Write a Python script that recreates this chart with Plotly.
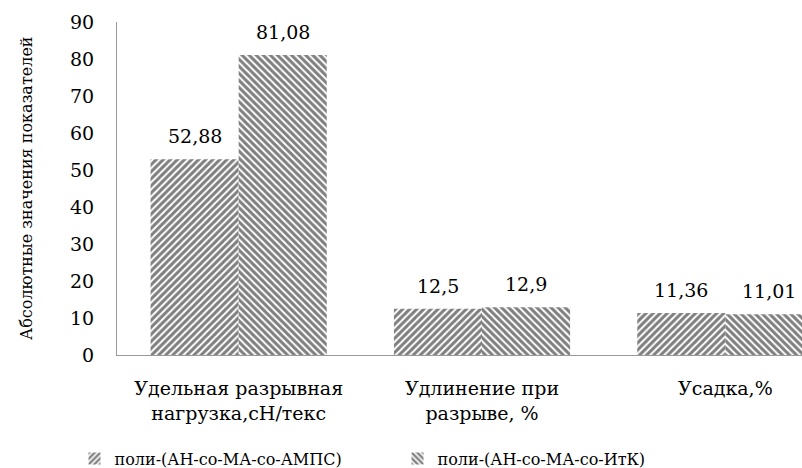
import plotly.graph_objects as go

categories = ["Удельная разрывная<br>нагрузка,сН/текс", "Удлинение при<br>разрыве, %", "Усадка,%"]
series_names = ["поли-(АН-со-МА-со-АМПС)", "поли-(АН-со-МА-со-ИтК)"]
values_ampс = [52.88, 12.5, 11.36]
values_itk = [81.08, 12.9, 11.01]
y_ticks = [0, 10, 20, 30, 40, 50, 60, 70, 80, 90]

FONT = "DejaVu Serif"
xpos = list(range(len(categories)))

def fmt(v):
    return str(v).replace(".", ",")

fig = go.Figure()
for name, vals, shape in [(series_names[0], values_ampс, "/"), (series_names[1], values_itk, "\\")]:
    fig.add_trace(go.Bar(
        x=xpos, y=vals, name=name,
        marker=dict(color="white", line=dict(width=0),
                    pattern=dict(shape=shape, fgcolor="black", bgcolor="white",
                                 size=5, solidity=0.6, fillmode="overlay")),
        hoverinfo="skip",
    ))

# data labels
for vals, shift in [(values_ampс, -44), (values_itk, 44)]:
    for xi, v in zip(xpos, vals):
        fig.add_annotation(x=xi, y=v, text=fmt(v), showarrow=False,
                           xshift=shift, yshift=10, yanchor="bottom",
                           font=dict(family=FONT, size=19, color="black"))

fig.add_annotation(xref="paper", yref="paper", x=-0.149, y=0.5,
                   text="Абсолютные значения показателей", textangle=-90,
                   showarrow=False, font=dict(family=FONT, size=16, color="black"))

fig.update_layout(
    width=802, height=468,
    margin=dict(l=117, r=0, t=22, b=113, autoexpand=False),
    plot_bgcolor="white", paper_bgcolor="white",
    barmode="group", bargap=0.276, bargroupgap=0,
    showlegend=True,
    legend=dict(orientation="h", x=-0.062, xanchor="left", y=-0.26, yanchor="top",
                font=dict(family=FONT, size=16, color="black"),
                entrywidth=278, entrywidthmode="pixels"),
    font=dict(family=FONT, color="black"),
)
fig.update_xaxes(range=[-0.5, 2.315], tickvals=xpos, ticktext=categories,
                 showline=True, linecolor="#999999", linewidth=1,
                 showgrid=False, zeroline=False, ticks="", automargin=False,
                 ticklabelstandoff=16,
                 tickfont=dict(family=FONT, size=19, color="black"))
fig.update_yaxes(range=[0, 90], tickvals=y_ticks,
                 showline=True, linecolor="#999999", linewidth=1,
                 showgrid=False, zeroline=False, ticks="", automargin=False,
                 ticklabelstandoff=18,
                 tickfont=dict(family=FONT, size=19, color="black"))

fig.write_html("out.html")
